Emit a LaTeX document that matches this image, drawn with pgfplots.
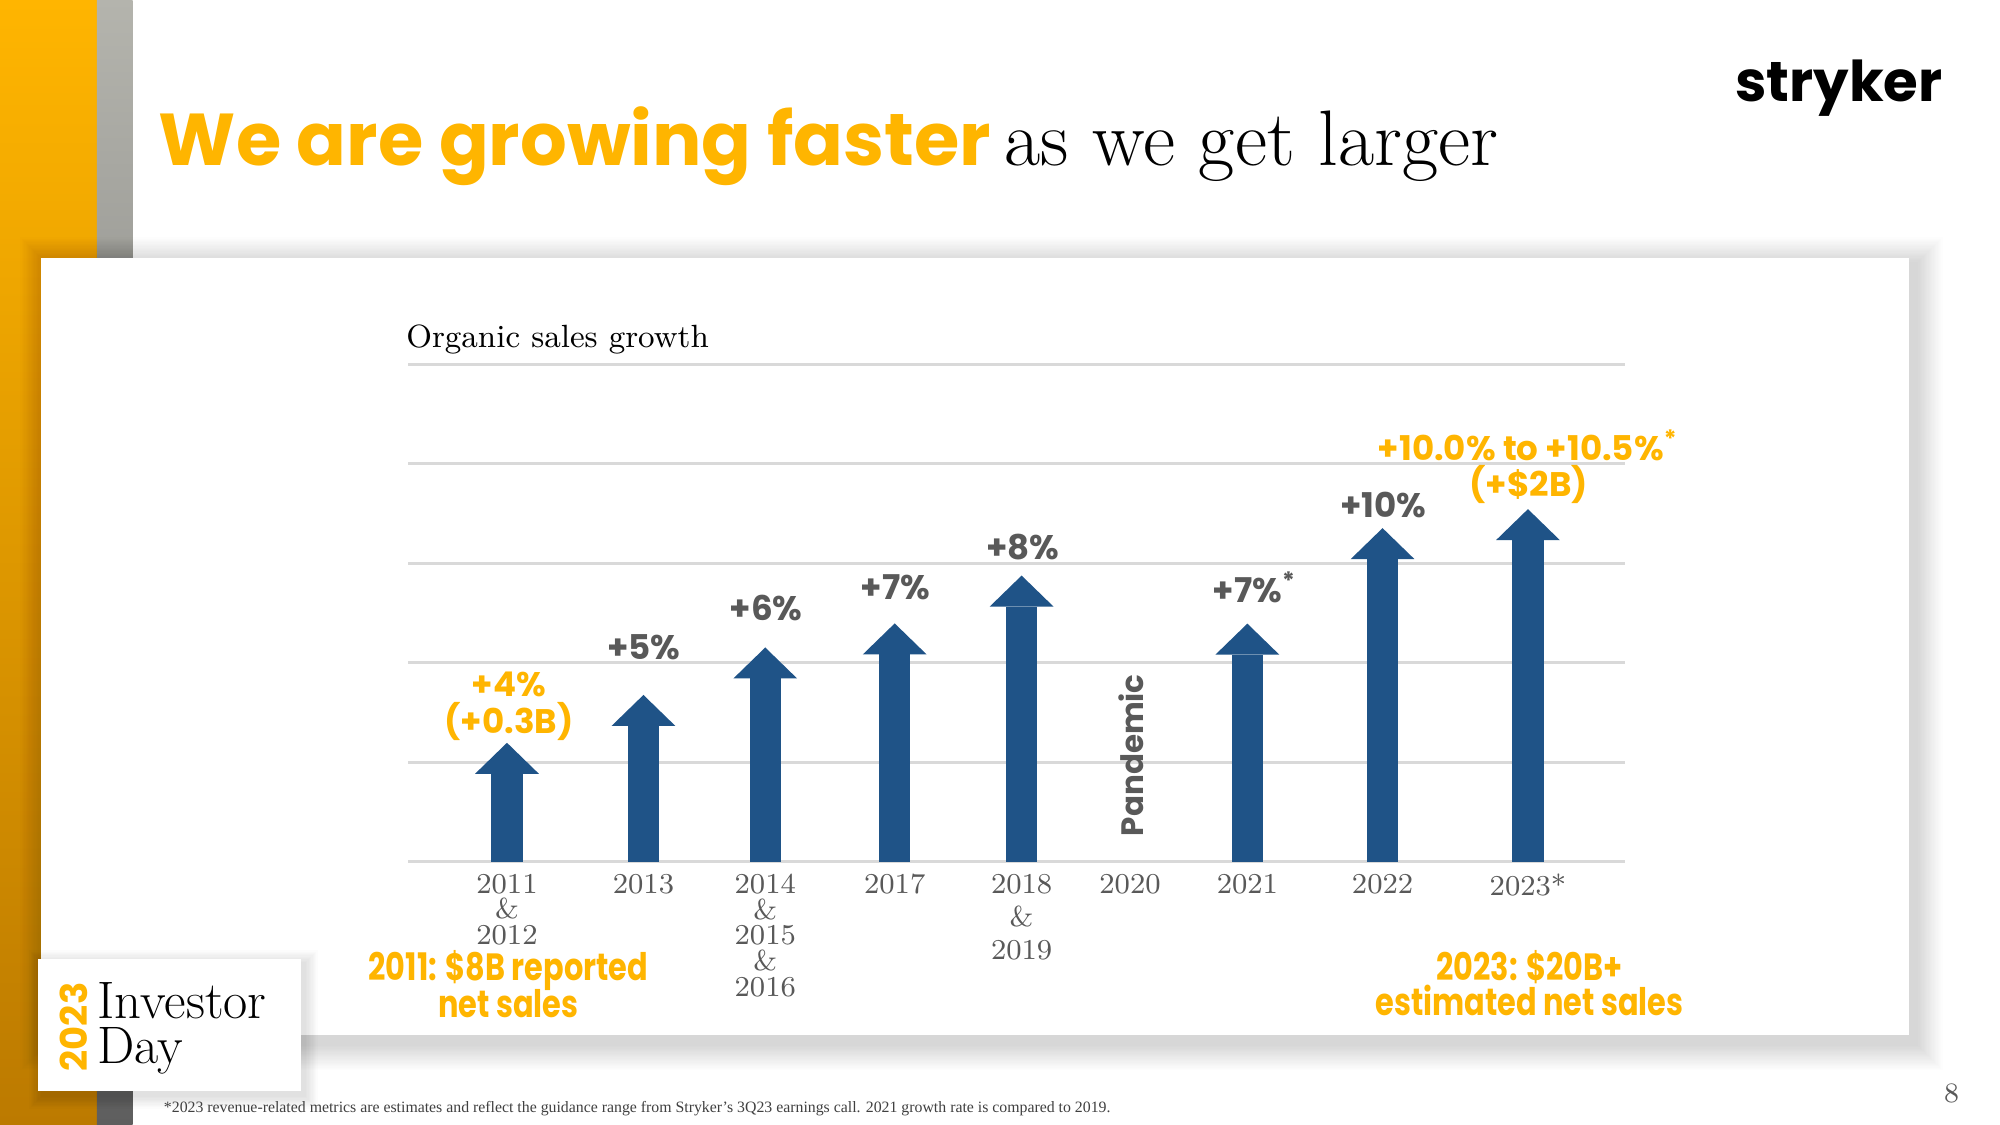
\documentclass[border=0pt]{standalone}
\usepackage{pgfplots}
\pgfplotsset{compat=1.18}
\usepackage{fontspec}
\usetikzlibrary{arrows.meta}
\newfontfamily\pop{Poppins}
\newfontfamily\popc{Poppins}[FakeStretch=0.8]
\newfontfamily\foot{Liberation Serif}
\definecolor{syellow}{HTML}{FFB500}
\definecolor{sblue}{HTML}{1F5387}
\definecolor{sgray}{HTML}{595959}
\definecolor{gridgray}{HTML}{D9D9D9}
\definecolor{ydark}{HTML}{BC7A00}
\definecolor{ymid}{HTML}{F2AA00}
\definecolor{gtop}{HTML}{B4B4AD}
\definecolor{gbot}{HTML}{5E5E5E}
\pgfplotstableread{
x y h
397.5 0 1.196
504.5 0 1.677
600.0 0 2.154
701.5 0 2.396
801.0 0 2.877
978.0 0 2.394
1084.0 0 3.354
1198.0 0 3.545
}\growth
\begin{document}
\begin{tikzpicture}[x=0.012755cm, y=0.012755cm]
\fill[white] (0,0) rectangle (1568,882);
\useasboundingbox (0,0) rectangle (1568,882);
\begin{scope}[yshift=11.2499cm, y=-0.012755cm]
% left bars
\shade[top color=syellow, middle color=ymid, bottom color=ydark] (0,0) rectangle (76,882);
\shade[top color=gtop, bottom color=gbot] (76,0) rectangle (104,882);
% card shadow
\foreach \i in {1,...,20}{
  \fill[black, opacity=0.006] (32+4-\i,202+4-\i) rectangle (1497+6+\i,811+8+\i);
}
\fill[white] (32,202) rectangle (1497,811);
% title
\node[font=\fontsize{20.9}{24}\pop\bfseries, text=syellow, anchor=base west, inner sep=0] at (124,130) {We are growing faster};
\node[font=\fontsize{22.4}{26}\selectfont, anchor=base west, inner sep=0] at (787,130) {as we get larger};
\node[font=\fontsize{16}{18}\pop\bfseries, anchor=base west, inner sep=0] at (1360,79.7) {stryker};
% chart title
\node[font=\fontsize{9.15}{11}\selectfont, anchor=base west, inner sep=0] at (318,272.7) {Organic sales growth};
\end{scope}
\begin{axis}[
  at={(4.0816cm,2.6326cm)}, anchor=south west,
  scale only axis, width=12.168cm, height=4.974cm,
  xmin=320, xmax=1274, ymin=0, ymax=5,
  clip=false,
  axis line style={draw=none},
  tick style={draw=none},
  ytick={0,1,2,3,4,5}, yticklabels={},
  ymajorgrids, grid style={gridgray, line width=0.8pt},
  xtick={397.5,504.5,600,701.5,801,886,978,1084,1198},
  xticklabels={{2011\\\&\\2012},{2013},{2014\\\&\\2015\\\&\\2016},{2017},{2018\\[2.1pt]\&\\[2.1pt]2019},{2020},{2021},{2022},{2023*}},
  xticklabel style={font=\fontsize{8.2}{7.3}\selectfont, text=sgray, align=center, anchor=north, inner sep=0pt, yshift=-3.3pt},
]
\addplot[sblue, line width=0.315cm, quiver={u=0, v=\thisrow{h}},
  -{Triangle[width=0.638cm, length=0.31cm, line width=0pt]}] table[x=x, y=y] {\growth};
\end{axis}
\begin{scope}[yshift=11.2499cm, y=-0.012755cm]
% value labels
\tikzset{val/.style={font=\fontsize{9.7}{11}\pop\bfseries, text=sgray, inner sep=0}}
\tikzset{yval/.style={font=\fontsize{9.7}{11}\pop\bfseries, text=syellow, inner sep=0}}
\node[yval] at (399,536.7) {+4\%};
\node[yval] at (399,565.2) {(+0.3B)};
\node[val] at (504.7,507) {+5\%};
\node[val] at (600.7,476.7) {+6\%};
\node[val] at (701.9,460.2) {+7\%};
\node[val] at (802,428.7) {+8\%};
\node[val] at (978,460.2) {+7\%\makebox[0pt][l]{\textsuperscript{*}}};
\node[val] at (1084.7,396.2) {+10\%};
\node[yval] at (1198,349) {+10.0\% to +10.5\%\textsuperscript{*}};
\node[yval] at (1198.5,379.5) {(+\$2B)};
\node[rotate=90, font=\fontsize{8.8}{10}\pop\bfseries, text=sgray, inner sep=0] at (887,592) {Pandemic};
% bottom notes
\tikzset{cnote/.style={font=\fontsize{10.8}{12}\popc\bfseries, text=syellow, inner sep=0}}
\node[cnote] at (398.5,761) {2011: \$8B reported};
\node[cnote] at (398.5,787) {net sales};
\node[cnote] at (1199,758) {2023: \$20B+};
\node[cnote] at (1199,784) {estimated net sales};
% investor day box
\foreach \i in {1,...,10}{
  \fill[black, opacity=0.012] (30+3-\i,752+3-\i) rectangle (236+3+\i,855+4+\i);
}
\fill[white] (30,752) rectangle (236,855);
\node[rotate=90, font=\fontsize{10.5}{12}\pop\bfseries, text=syellow, inner sep=0] at (57.5,805) {2023};
\node[font=\fontsize{15}{17}\selectfont, anchor=base west, inner sep=0] at (76,798.4) {Investor};
\node[font=\fontsize{15}{17}\selectfont, anchor=base west, inner sep=0] at (76,833.7) {Day};
% footnote
\node[font=\fontsize{4.5}{5}\foot, text=black!75, anchor=base west, inner sep=0] at (128,872) {*2023 revenue-related metrics are estimates and reflect the guidance range from Stryker’s 3Q23 earnings call. 2021 growth rate is compared to 2019.};
\node[font=\fontsize{8}{9}\selectfont, text=sgray, inner sep=0] at (1530,857) {8};
\end{scope}
\end{tikzpicture}
\end{document}
